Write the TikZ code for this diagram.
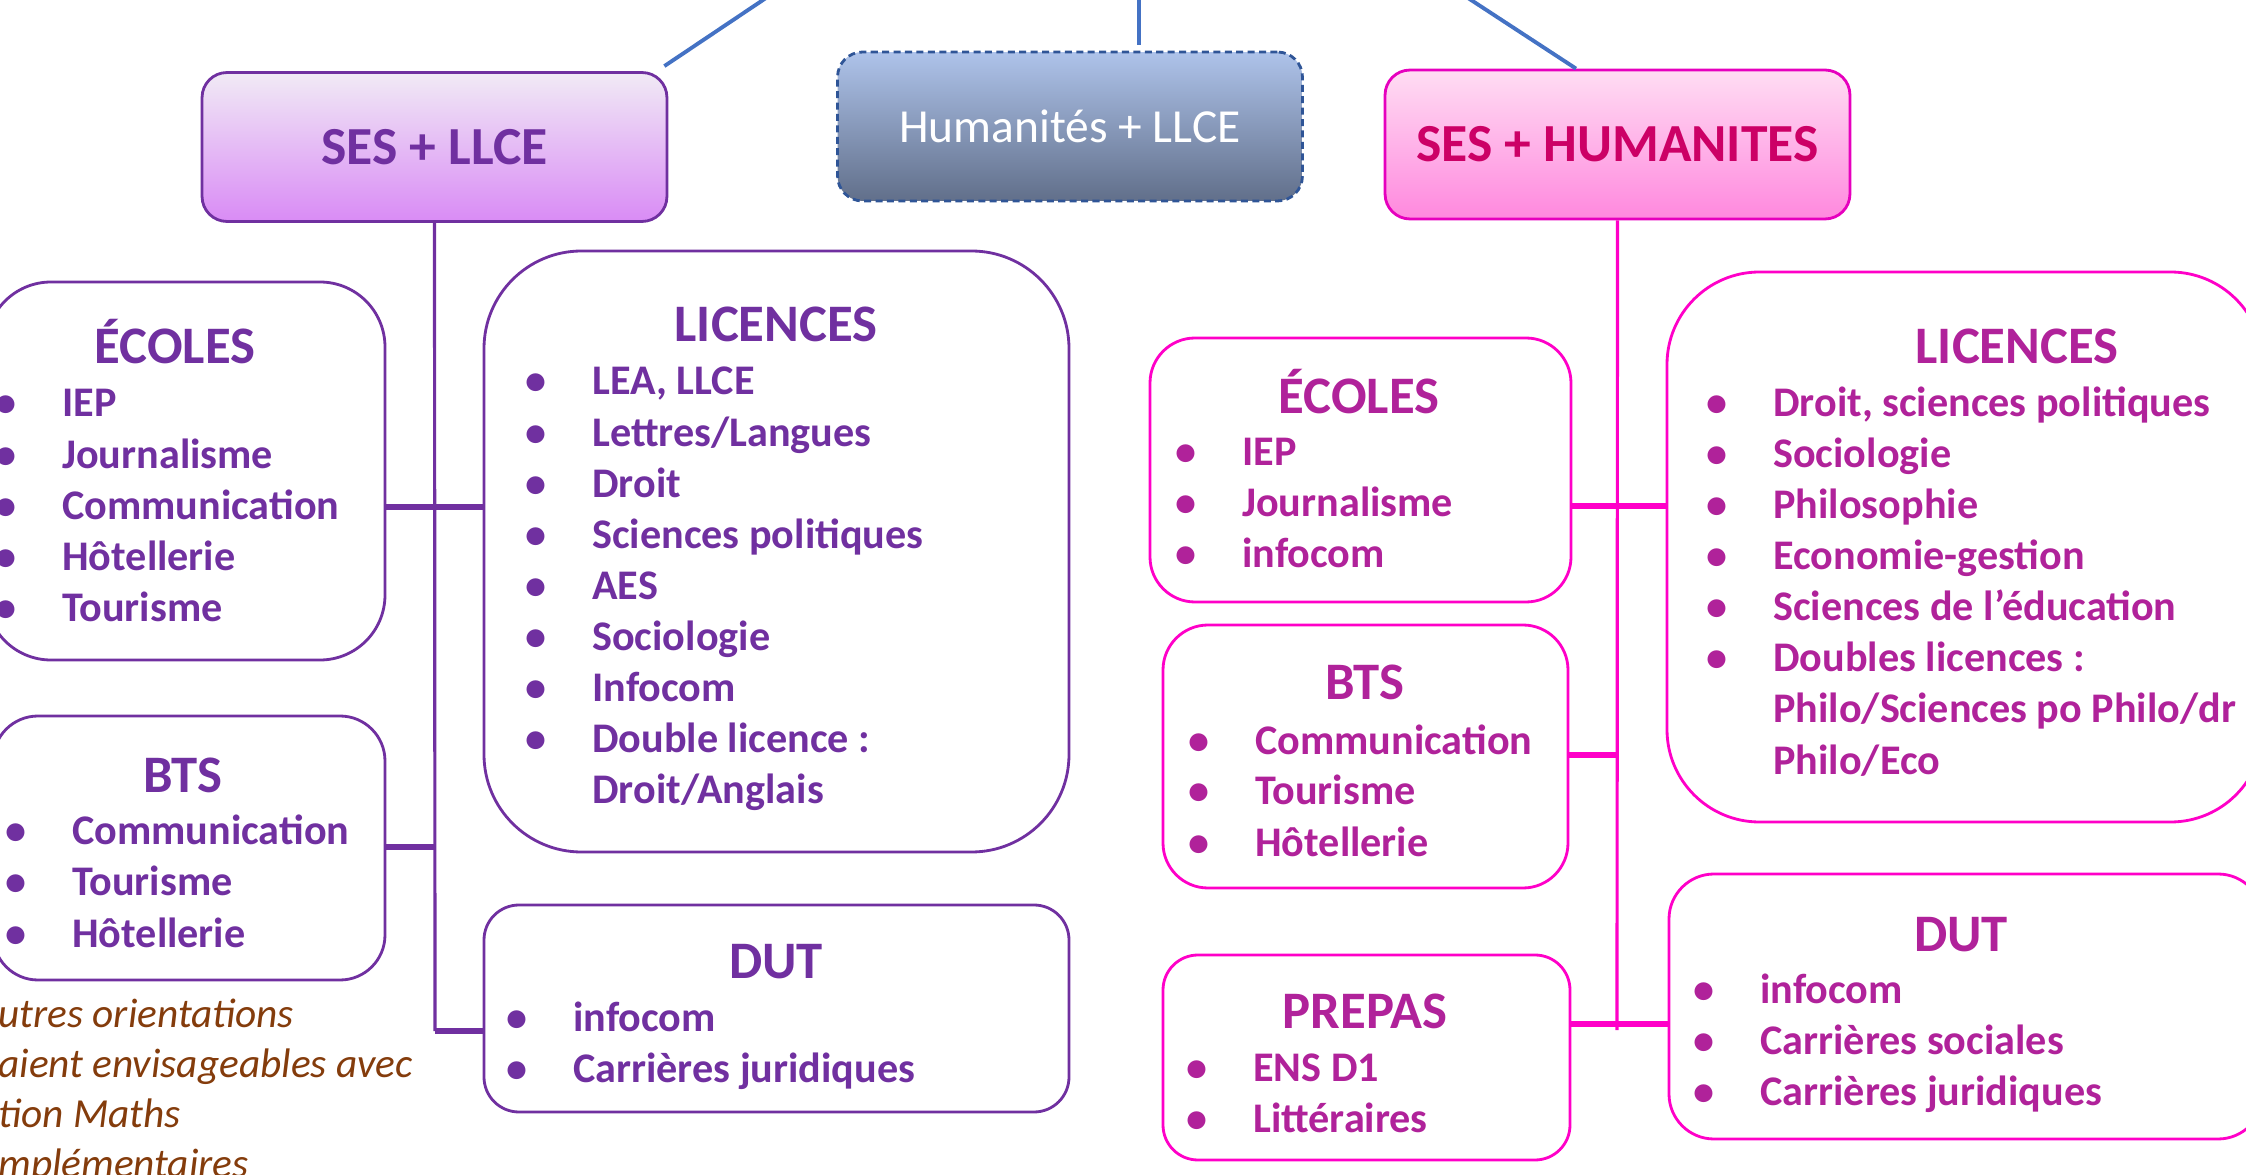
\documentclass[tikz,border=0pt]{standalone}
\usepackage{fontspec}
\setmainfont{Carlito}
\usetikzlibrary{fit,positioning}
\definecolor{pur}{HTML}{7030A0}
\definecolor{mag}{HTML}{FF00C8}
\definecolor{magtxt}{HTML}{B0229A}
\definecolor{rose}{HTML}{CC0066}
\definecolor{brn}{HTML}{843C0C}
\definecolor{bleu}{HTML}{4472C4}
\definecolor{bleuf}{HTML}{2F5597}
\newcommand\bu{\llap{\textbullet\hspace{26pt}}}

\begin{document}
\begin{tikzpicture}[x=0.02cm,y=-0.02cm,
  tbox/.style={rounded corners=0.5cm,line width=1.6pt,minimum width=9.3cm,minimum height=2.98cm,
    font=\bfseries\fontsize{30.5}{36}\selectfont},
  cbox/.style={draw,line width=1.6pt,fill=white,inner sep=0pt,rounded corners=#1},
  ttl/.style={anchor=base,inner sep=0pt,font=\bfseries\fontsize{30}{36}\selectfont},
  itm/.style={anchor=base west,inner sep=0pt,font=\bfseries\fontsize{24}{29}\selectfont},
  trunk/.style={line width=1.8pt},
  branch/.style={line width=3.4pt},
  toplink/.style={bleu,line width=2.2pt}]
\useasboundingbox (0,0) rectangle (2246,1175);

% three choices on top
\node[tbox,draw=pur,top color=pur!10,bottom color={rgb,255:red,217;green,139;blue,245},text=pur] (sesllce) at (434.5,147) {SES + LLCE};
\node[tbox,draw=bleuf,dash pattern=on 4pt off 2.5pt,top color={rgb,255:red,174;green,195;blue,234},
  bottom color={rgb,255:red,97;green,111;blue,138},text=white,font=\fontsize{27}{32}\selectfont] (huml) at (1070,126.5) {Humanités + LLCE};
\node[tbox,draw={rgb,255:red,230;green,0;blue,190},top color={rgb,255:red,255;green,221;blue,243},
  bottom color={rgb,255:red,255;green,136;blue,222},text=rose] (seshum) at (1617.5,144.5) {SES + HUMANITES};

\coordinate (t1) at (766,-2);
\coordinate (t2) at (1139,-2);
\coordinate (t3) at (1468,-2);
\draw[toplink] (t1) -- ([shift={(-4,-5)}]sesllce.north east);
\draw[toplink,shorten >=3pt] (t2) -- (t2 |- huml.north);
\draw[toplink] (t3) -- ([xshift=-0.83cm]seshum.north);

% SES + LLCE
\node[cbox=1.3cm,draw=pur,fit={(-14,282) (385,660)}] (ecL) {};
\node[ttl,text=pur] (ecLt) at (175,364) {ÉCOLES};
\foreach \t [count=\i] in {IEP,Journalisme,Communication,Hôtellerie,Tourisme}
  \node[itm,text=pur] (ecL-\i) at (62,{417+51.2*(\i-1)}) {\bu\t};

\node[cbox=1.95cm,draw=pur,fit={(484,251) (1069,852)}] (licL) {};
\node[ttl,text=pur] (licLt) at (776,342) {LICENCES};
\foreach \t [count=\i] in {{LEA, LLCE},Lettres/Langues,Droit,Sciences politiques,AES,Sociologie,Infocom,Double licence :}
  \node[itm,text=pur] (licL-\i) at (592,{395+51.1*(\i-1)}) {\bu\t};
\node[itm,text=pur] (licL-9) at (592,804) {Droit/Anglais};

\node[cbox=0.9cm,draw=pur,fit={(-7,716) (385,980)}] (btsL) {};
\node[ttl,text=pur] (btsLt) at (183,792) {BTS};
\foreach \t [count=\i] in {Communication,Tourisme,Hôtellerie}
  \node[itm,text=pur] (btsL-\i) at (72,{844+51.5*(\i-1)}) {\bu\t};

\node[cbox=0.7cm,draw=pur,fit={(484,905) (1069,1112)}] (dutL) {};
\node[ttl,text=pur] (dutLt) at (776,978) {DUT};
\foreach \t [count=\i] in {infocom,Carrières juridiques}
  \node[itm,text=pur] (dutL-\i) at (573,{1031+51*(\i-1)}) {\bu\t};

\foreach \t [count=\i] in {utres orientations,aient envisageables avec,tion Maths,mplémentaires}
  \node[anchor=base west,inner sep=0pt,text=brn,font=\itshape\fontsize{23.5}{29}\selectfont] (note-\i) at (-2,{1027+50*(\i-1)}) {\t};

\coordinate (c1) at (435,507);
\coordinate (c2) at (435,847);
\coordinate (jl) at (435,1031);
\draw[trunk,pur] (sesllce.south) -- (jl);
\draw[branch,pur] (ecL.east |- c1) -- (licL.west |- c1);
\draw[branch,pur] (btsL.east |- c2) -- (c2);
\draw[branch,pur] (jl) -- (dutL.west |- jl);

% SES + HUMANITES
\node[cbox=0.9cm,draw=mag,fit={(1150,338) (1571,602)}] (ecR) {};
\node[ttl,text=magtxt] (ecRt) at (1359,414) {ÉCOLES};
\foreach \t [count=\i] in {IEP,Journalisme,infocom}
  \node[itm,text=magtxt] (ecR-\i) at (1242,{466+51*(\i-1)}) {\bu\t};

\node[cbox=1.85cm,draw=mag,fit={(1667,272) (2263,822)}] (licR) {};
\node[ttl,text=magtxt] (licRt) at (2017,364) {LICENCES};
\foreach \t [count=\i] in {{Droit, sciences politiques},Sociologie,Philosophie,Economie-gestion,Sciences de l’éducation,Doubles licences :}
  \node[itm,text=magtxt] (licR-\i) at (1773,{417+51*(\i-1)}) {\bu\t};
\node[itm,text=magtxt] (licR-7) at (1773,723) {Philo/Sciences po Philo/dr};
\node[itm,text=magtxt] (licR-8) at (1773,774) {Philo/Eco};

\node[cbox=0.9cm,draw=mag,fit={(1163,625) (1568,888)}] (btsR) {};
\node[ttl,text=magtxt] (btsRt) at (1365,700) {BTS};
\foreach \t [count=\i] in {Communication,Tourisme,Hôtellerie}
  \node[itm,text=magtxt] (btsR-\i) at (1255,{754+51*(\i-1)}) {\bu\t};

\node[cbox=0.7cm,draw=mag,fit={(1163,955) (1570,1160)}] (prepR) {};
\node[ttl,text=magtxt] (prepRt) at (1365,1028) {PREPAS};
\foreach \t [count=\i] in {ENS D1,Littéraires}
  \node[itm,text=magtxt] (prepR-\i) at (1253,{1081+51*(\i-1)}) {\bu\t};

\node[cbox=0.9cm,draw=mag,fit={(1669,874) (2263,1139)}] (dutR) {};
\node[ttl,text=magtxt] (dutRt) at (1961,951) {DUT};
\foreach \t [count=\i] in {infocom,Carrières sociales,Carrières juridiques}
  \node[itm,text=magtxt] (dutR-\i) at (1760,{1003+51*(\i-1)}) {\bu\t};

\coordinate (c3) at (1617,506);
\coordinate (c4) at (1617,755);
\coordinate (c5) at (1617,1024);
\coordinate (jr) at (1617,1030);
\draw[trunk,mag] (seshum.south) -- (jr);
\draw[branch,mag] (ecR.east |- c3) -- (licR.west |- c3);
\draw[branch,mag] (btsR.east |- c4) -- (c4);
\draw[branch,mag] (prepR.east |- c5) -- (dutR.west |- c5);
\end{tikzpicture}
\end{document}
